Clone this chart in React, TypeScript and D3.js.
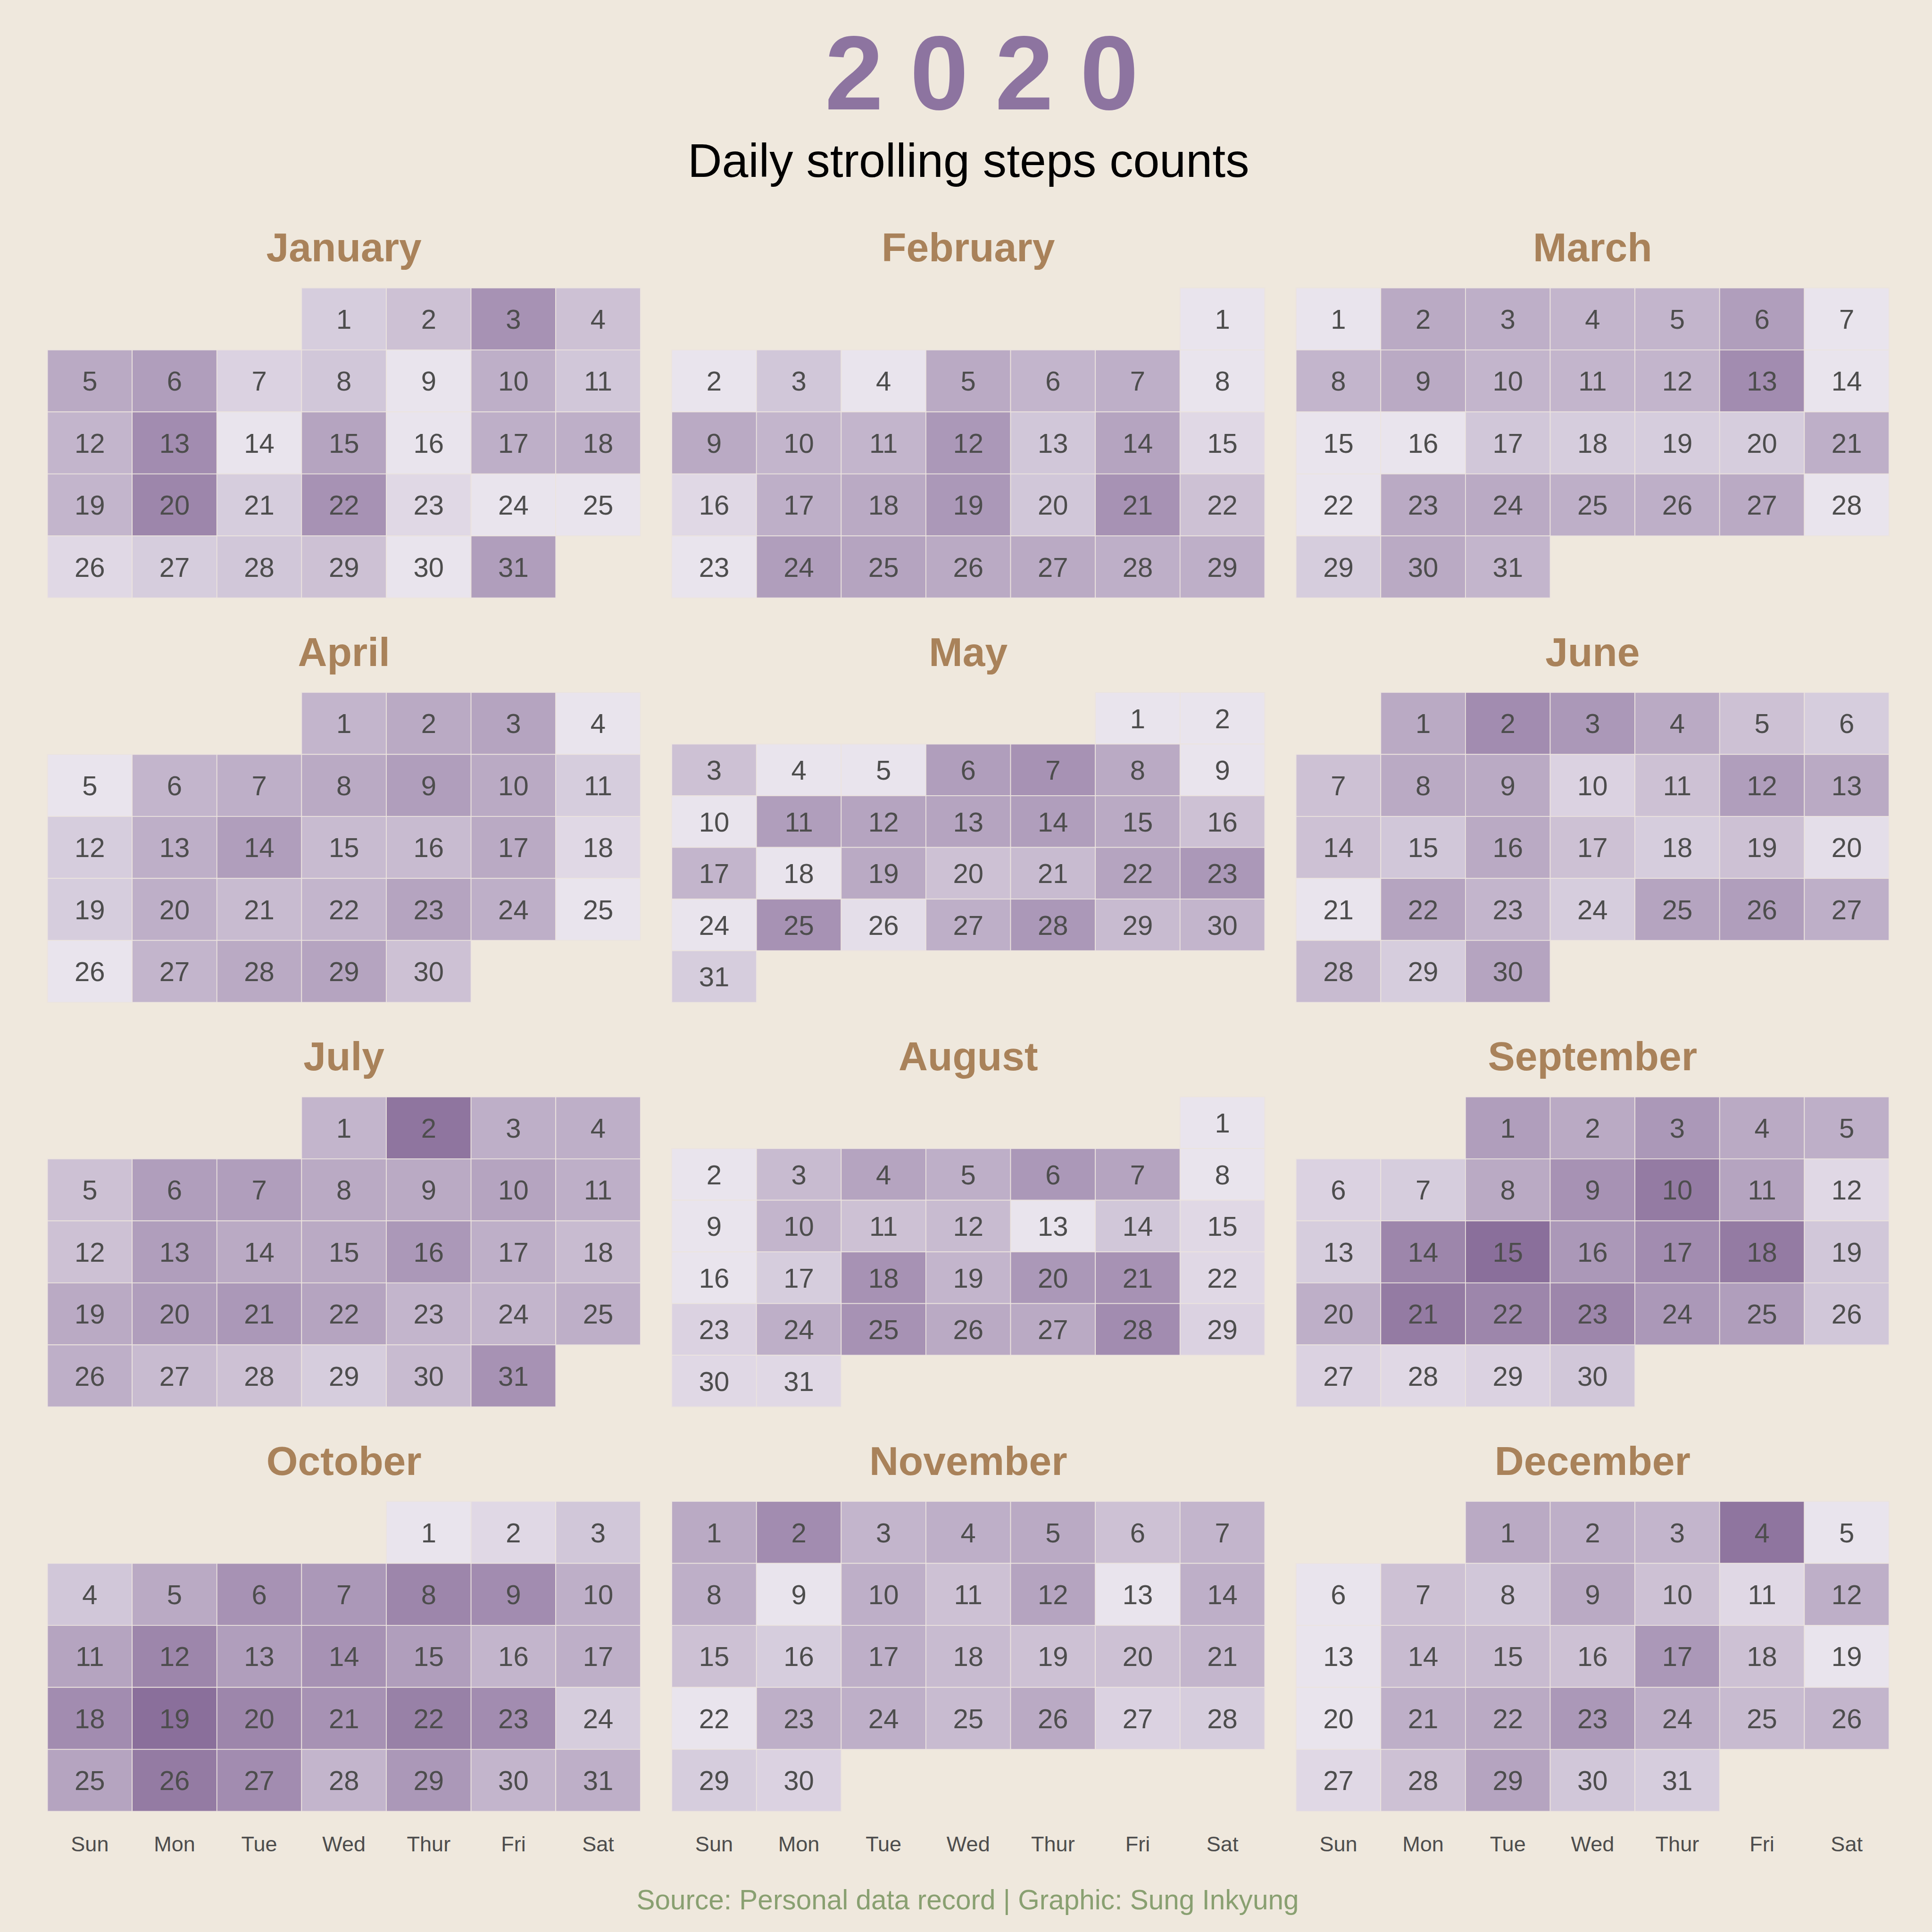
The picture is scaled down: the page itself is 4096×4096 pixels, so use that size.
import * as d3 from "d3";

// step intensity per day (0 = fewest, 10 = most)
const jan = [2, 3, 7, 3, 5, 6, 1.5, 2.5, 0, 4.5, 2.5, 4, 7.5, 0, 5.5, 0, 4.5, 4.5, 4, 8, 2, 7, 1, 0, 0, 1, 2, 2.5, 3, 0, 6];
const feb = [0, 0, 2.5, 0, 5, 4, 4.5, 0, 5, 4, 4, 6.5, 2.5, 5.5, 1, 1, 4.5, 5, 6.5, 2.5, 7, 3, 0, 6, 5.5, 5, 5, 4.5, 4.5];
const mar = [0, 5, 4.5, 4, 4, 6, 0, 4, 5, 4, 4, 4, 7.5, 0, 0, 0, 2.5, 2, 2, 2, 4.5, 0, 5, 5, 4.5, 4.5, 5, 0, 2, 5, 4];
const apr = [4, 5, 5.5, 0, 0, 4, 4.5, 5, 6, 5, 2, 2, 4.5, 6, 3.5, 3.5, 5, 1, 2, 4.5, 3.5, 4, 5.5, 4.5, 0, 0, 4, 5, 5.5, 3];
const may = [0, 0, 3, 0, 0, 6, 7, 5, 0, 0, 6, 5.5, 5.5, 6, 5, 3, 4, 0, 5, 3, 3.5, 5.5, 6.5, 0, 7, 0.5, 4.5, 6.5, 3.5, 4, 2];
const jun = [5, 7.5, 6.5, 5, 3, 2, 3, 5, 5, 1.5, 3, 6, 5, 3, 2.5, 5, 3, 2, 3, 0.5, 0, 5.5, 4, 2, 5.5, 6, 4.5, 3.5, 2, 5.5];
const jul = [4, 9.5, 4.5, 4.5, 3, 6, 6, 5, 5, 5.5, 4.5, 3, 6, 5, 5, 6.5, 4.5, 3.5, 5, 6, 6.5, 5.5, 4, 4, 4.5, 4.5, 3.5, 3, 2, 3.5, 7];
const aug = [0, 0, 3.5, 5.5, 4.5, 6.5, 5.5, 0, 0, 4, 3, 3.5, 0, 2.5, 1, 0, 2, 7, 4, 6.5, 7, 1, 1.5, 4.5, 7, 5, 5, 7.5, 1.5, 1, 1];
const sep = [6, 5, 6.5, 5, 4.5, 1.5, 2, 5, 7, 9, 5.5, 1, 2, 8, 10, 6.5, 7.5, 9, 2.5, 4.5, 9, 8, 8, 6.5, 6, 2.5, 1.5, 1, 1.5, 2.5];
const oct = [0, 1, 2.5, 2.5, 5, 7, 6.5, 8, 7.5, 4.5, 5.5, 8, 6, 7, 6, 4, 4.5, 7.5, 10, 8, 7, 8.5, 7.5, 2, 5.5, 9, 7.5, 4, 6.5, 4, 4.5];
const nov = [5, 7.5, 4, 4.5, 5, 3, 4, 4.5, 0, 4.5, 3, 5.5, 0, 4.5, 3, 2, 4.5, 3.5, 3, 3, 4, 0, 4.5, 4.5, 3.5, 5, 1.5, 2, 2, 1.5];
const dec = [5, 4.5, 4, 9.5, 0, 0, 3, 2.5, 5, 3, 1, 4.5, 0, 3.5, 3.5, 3, 6.5, 3, 0, 0, 4.5, 5, 6.5, 4.5, 3.5, 4, 1, 3, 5.5, 2.5, 2];

const monthValues = [jan, feb, mar, apr, may, jun, jul, aug, sep, oct, nov, dec];
const monthNames = ["January", "February", "March", "April", "May", "June", "July", "August", "September", "October", "November", "December"];
const weekdays = ["Sun", "Mon", "Tue", "Wed", "Thur", "Fri", "Sat"];

const W = 4724;
const OUT = 4096;
const FONT = "'Liberation Sans', Arial, Helvetica, sans-serif";

export default function App() {
  const colX = d3.scaleBand<number>().domain([0, 1, 2]).range([116, 4619]).paddingInner(0.0501);
  const rowY = d3.scaleBand<number>().domain([0, 1, 2, 3]).range([704, 4429]).paddingInner(0.2336);
  const color = d3.scaleLinear<string>().domain([0, 10]).range(["#e9e4ed", "#8a6f9b"]).interpolate(d3.interpolateRgb);
  const dayX = d3.scaleBand<number>().domain(d3.range(7)).range([0, colX.bandwidth()]);

  const panels = monthValues.map((vals, m) => {
    const start = new Date(2020, m, 1);
    const last = new Date(2020, m, vals.length);
    const nWeeks = d3.timeWeek.count(start, last) + 1;
    const weekY = d3.scaleBand<number>().domain(d3.range(nWeeks)).range([0, rowY.bandwidth()]);
    const x0 = colX(m % 3)!;
    const y0 = rowY(Math.floor(m / 3))!;
    const cells = vals.map((v, i) => {
      const date = new Date(2020, m, i + 1);
      return { day: i + 1, v, col: date.getDay(), row: d3.timeWeek.count(start, date) };
    });
    return (
      <g key={m} transform={`translate(${x0},${y0})`}>
        <text x={colX.bandwidth() / 2} y={-65} textAnchor="middle" fontSize={99} fontWeight="bold" fill="#a9825a">
          {monthNames[m]}
        </text>
        {cells.map((c) => (
          <g key={c.day}>
            <rect
              x={dayX(c.col)}
              y={weekY(c.row)}
              width={dayX.bandwidth()}
              height={weekY.bandwidth()}
              fill={color(c.v)}
              stroke="#ece4de"
              strokeWidth={2}
            />
            <text
              x={dayX(c.col)! + dayX.bandwidth() / 2}
              y={weekY(c.row)! + weekY.bandwidth() / 2 + 24}
              textAnchor="middle"
              fontSize={67}
              fill="#4d4d4d"
            >
              {c.day}
            </text>
          </g>
        ))}
        {Math.floor(m / 3) === 3 &&
          weekdays.map((d, i) => (
            <text key={d} x={dayX(i)! + dayX.bandwidth() / 2} y={rowY.bandwidth() + 98} textAnchor="middle" fontSize={52} fill="#4d4d4d">
              {d}
            </text>
          ))}
      </g>
    );
  });

  return (
    <svg
      width={OUT}
      height={OUT}
      viewBox={`0 0 ${W} ${W}`}
      style={{ position: "absolute", left: 0, top: 0, display: "block" }}
      fontFamily={FONT}
    >
      <rect width={W} height={W} fill="#efe8dd" />
      <text x={2017} y={267} fontSize={257} fontWeight="bold" fill="#8d74a0" letterSpacing={65}>
        2020
      </text>
      <text x={2368} y={432} textAnchor="middle" fontSize={116} fill="#000">
        Daily strolling steps counts
      </text>
      {panels}
      <text x={2366} y={4669} textAnchor="middle" fontSize={67.5} fill="#89a071">
        Source: Personal data record | Graphic: Sung Inkyung
      </text>
    </svg>
  );
}
